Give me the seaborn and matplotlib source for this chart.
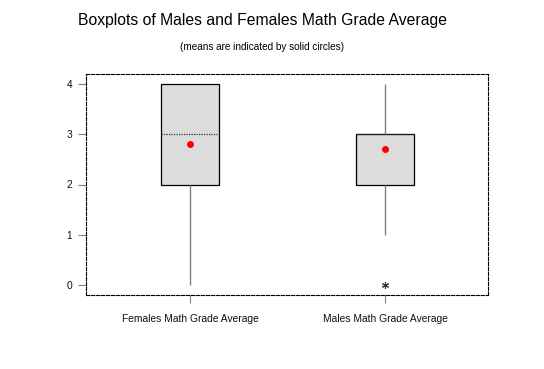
import matplotlib
matplotlib.use("Agg")
import matplotlib.pyplot as plt
import seaborn as sns
import pandas as pd

females = [0, 1, 2, 2, 2, 2, 2, 3, 3, 3, 3, 3, 3, 3, 4, 4, 4, 4, 4, 4]
males = [0, 1, 2, 2, 2, 2, 2, 3, 3, 3, 3, 3, 3, 3, 3, 3, 4, 4, 4, 4]
categories = ["Females Math Grade Average", "Males Math Grade Average"]
y_ticks = [0, 1, 2, 3, 4]

df = pd.DataFrame({
    "group": [categories[0]] * len(females) + [categories[1]] * len(males),
    "grade": females + males,
})

sns.set_style("white")
plt.rcParams["font.family"] = ["Liberation Sans", "DejaVu Sans"]

fig = plt.figure(figsize=(5.44, 3.69), dpi=100)
ax = fig.add_axes([0.158, 0.2005, 0.739, 0.599])

sns.boxplot(
    data=df, x="group", y="grade", order=categories, ax=ax,
    width=0.3, color="#dcdcdc", linewidth=0.9, whis=1.5,
    showmeans=True, showcaps=False,
    boxprops=dict(facecolor="#dcdcdc", edgecolor="black"),
    medianprops=dict(color="#333333", linestyle=(0, (1, 1)), linewidth=0.9),
    whiskerprops=dict(color="#808080", linewidth=1.0),
    flierprops=dict(marker=(6, 2, 0), markersize=5, markerfacecolor="#333333",
                    markeredgecolor="#333333", markeredgewidth=0.8),
    meanprops=dict(marker="o", markersize=4, markerfacecolor="red",
                   markeredgecolor="red"),
)

ax.set_xlim(-0.533, 1.528)
ax.set_ylim(-0.2, 4.2)
ax.set_yticks(y_ticks)
ax.set_xlabel("")
ax.set_ylabel("")
ax.tick_params(axis="both", which="both", direction="out", length=6, width=0.8,
               color="#808080", labelcolor="#111111", labelsize=7.4,
               left=True, bottom=True, pad=4)
ax.tick_params(axis="x", pad=8)

for side in ["top", "bottom", "left", "right"]:
    ax.spines[side].set_visible(True)
    ax.spines[side].set_color("black")
    ax.spines[side].set_linewidth(0.8)
    ax.spines[side].set_linestyle((0, (3, 1.5)))

fig.text(0.483, 0.945, "Boxplots of Males and Females Math Grade Average",
         ha="center", va="center", fontsize=11.3, color="black")
fig.text(0.482, 0.873, "(means are indicated by solid circles)",
         ha="center", va="center", fontsize=7.2, color="black")

fig.savefig("out.png", dpi=100, facecolor="white")
